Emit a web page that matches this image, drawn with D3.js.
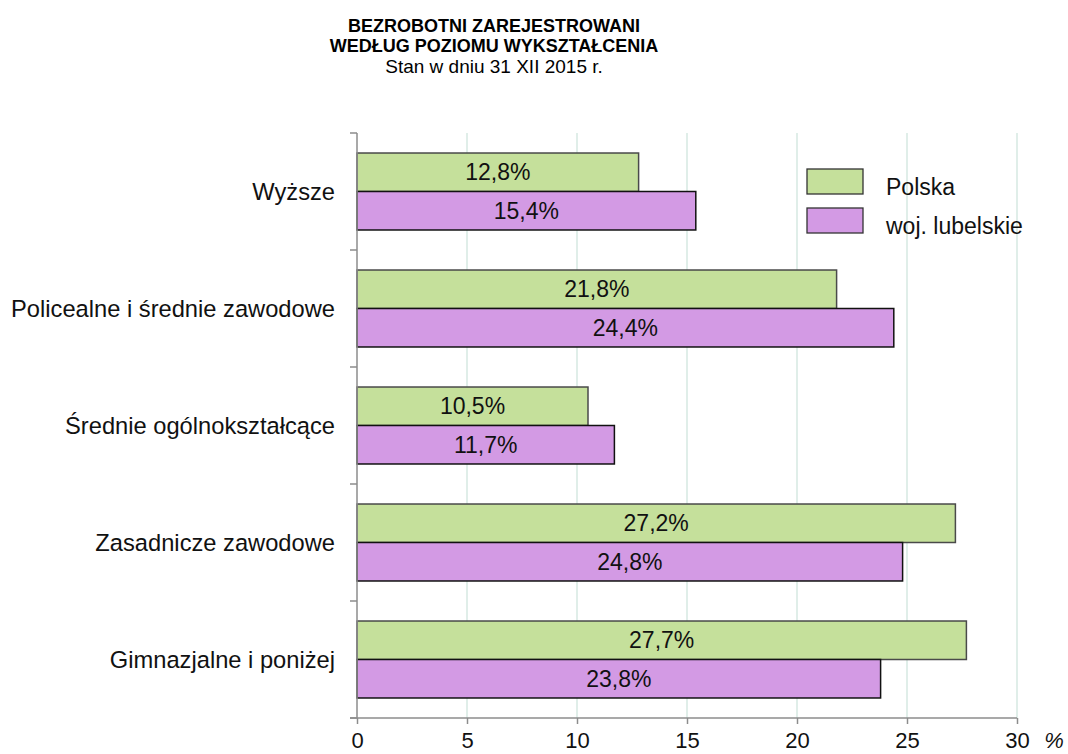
<!DOCTYPE html>
<html>
<head>
<meta charset="utf-8">
<script src="https://cdn.jsdelivr.net/npm/d3@7"></script>
<style>
  body { margin: 0; background: #fff; }
  svg { display: block; font-family: Arial, "Liberation Sans", sans-serif; }
</style>
</head>
<body>
<svg id="chart"></svg>
<script>
// Data: share of registered unemployed by education level (%), 31 XII 2015
const categories = ["Wyższe", "Policealne i średnie zawodowe", "Średnie ogólnokształcące", "Zasadnicze zawodowe", "Gimnazjalne i poniżej"];
const seriesNames = ["Polska", "woj. lubelskie"];
const polska = [12.8, 21.8, 10.5, 27.2, 27.7];
const lubelskie = [15.4, 24.4, 11.7, 24.8, 23.8];
const xTicks = [0, 5, 10, 15, 20, 25, 30];
const titleLines = ["BEZROBOTNI ZAREJESTROWANI", "WEDŁUG POZIOMU WYKSZTAŁCENIA"];
const subtitle = "Stan w dniu 31 XII 2015 r.";

const colors = { "Polska": "#c5e09b", "woj. lubelskie": "#d39ae4" };
const strokes = { "Polska": "#4a4a4a", "woj. lubelskie": "#111" };

const W = 1068, H = 754;
const svg = d3.select("#chart").attr("width", W).attr("height", H);

const plot = { left: 357, right: 1017, top: 133, bottom: 718 };

const x = d3.scaleLinear().domain([0, 30]).range([plot.left, plot.right]);
const y = d3.scaleBand().domain(categories).range([plot.top, plot.bottom]);
const ySub = d3.scaleBand().domain(seriesNames).range([0, y.bandwidth()]).paddingOuter(0.52);

const rows = categories.map((c, i) => ({ cat: c, values: [
    { name: seriesNames[0], v: polska[i] },
    { name: seriesNames[1], v: lubelskie[i] }
] }));

// Title
const t = svg.append("g").attr("text-anchor", "middle");
titleLines.forEach((line, i) => {
    t.append("text").attr("x", 494).attr("y", 32 + i * 20)
        .attr("font-size", 18).attr("font-weight", "bold").text(line);
});
t.append("text").attr("x", 494).attr("y", 73).attr("font-size", 19).text(subtitle);

// Gridlines
svg.append("g").selectAll("line")
    .data(xTicks.filter(d => d > 0))
    .enter().append("line")
    .attr("x1", d => x(d)).attr("x2", d => x(d))
    .attr("y1", plot.top).attr("y2", plot.bottom)
    .attr("stroke", "#cfe5de").attr("stroke-width", 1.3);

// Bars
const groups = svg.append("g").selectAll("g")
    .data(rows)
    .enter().append("g")
    .attr("transform", d => `translate(0,${y(d.cat)})`);

groups.selectAll("rect")
    .data(d => d.values)
    .enter().append("rect")
    .attr("x", x(0))
    .attr("y", d => ySub(d.name))
    .attr("width", d => x(d.v) - x(0))
    .attr("height", ySub.bandwidth())
    .attr("fill", d => colors[d.name])
    .attr("stroke", d => strokes[d.name])
    .attr("stroke-width", 1.5);

groups.selectAll("text")
    .data(d => d.values)
    .enter().append("text")
    .attr("x", d => (x(0) + x(d.v)) / 2)
    .attr("y", d => ySub(d.name) + ySub.bandwidth() / 2 + 8)
    .attr("text-anchor", "middle")
    .attr("font-size", 23)
    .attr("fill", "#111")
    .text(d => d.v.toFixed(1).replace(".", ",") + "%");

// Left axis (category boundaries)
const yAxis = svg.append("g");
yAxis.append("line")
    .attr("x1", plot.left).attr("x2", plot.left).attr("y1", plot.top).attr("y2", plot.bottom)
    .attr("stroke", "#8c8c8c").attr("stroke-width", 1.5);
yAxis.selectAll(".tk")
    .data(categories.map(c => y(c)).concat([plot.bottom]))
    .enter().append("line")
    .attr("x1", plot.left - 7).attr("x2", plot.left)
    .attr("y1", d => d).attr("y2", d => d)
    .attr("stroke", "#8c8c8c").attr("stroke-width", 1.5);
yAxis.selectAll(".lbl")
    .data(categories)
    .enter().append("text")
    .attr("x", 335)
    .attr("y", d => y(d) + y.bandwidth() / 2 + 8)
    .attr("text-anchor", "end")
    .attr("font-size", 23.7)
    .attr("fill", "#111")
    .text(d => d);

// Bottom axis
const xAxis = svg.append("g").attr("transform", `translate(0,${plot.bottom})`)
    .call(d3.axisBottom(x).tickValues(xTicks).tickSize(6));
xAxis.select(".domain").attr("stroke", "#8c8c8c").attr("stroke-width", 1.5)
    .attr("d", `M${plot.left - 7},0H${plot.right}`);
xAxis.selectAll(".tick line").attr("stroke", "#8c8c8c").attr("stroke-width", 1.5);
xAxis.selectAll(".tick text").attr("font-size", 22).attr("fill", "#111")
    .attr("dy", null).attr("y", 30)
    .attr("font-family", "Arial, 'Liberation Sans', sans-serif");
svg.append("text").attr("x", 1054).attr("y", plot.bottom + 30)
    .attr("text-anchor", "middle").attr("font-size", 22).attr("font-style", "italic")
    .attr("fill", "#111").text("%");

// Legend
const legend = svg.append("g").attr("transform", "translate(807,169)");
seriesNames.forEach((s, i) => {
    legend.append("rect").attr("x", 0).attr("y", i * 39).attr("width", 56).attr("height", 25)
        .attr("fill", colors[s]).attr("stroke", "#333").attr("stroke-width", 1.3);
    legend.append("text").attr("x", 79).attr("y", i * 39 + 26)
        .attr("font-size", 23).attr("fill", "#111").text(s);
});
</script>
</body>
</html>
